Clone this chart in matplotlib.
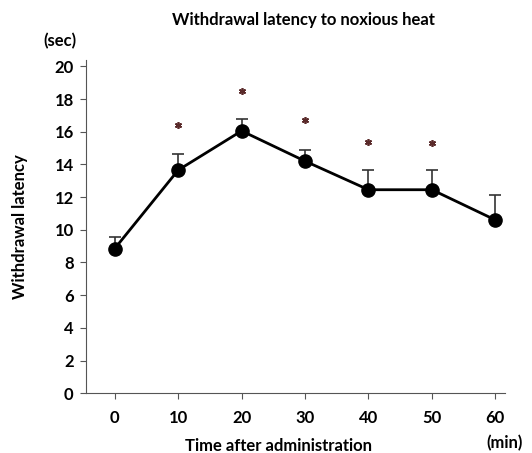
import matplotlib
matplotlib.use("Agg")
import matplotlib.pyplot as plt

plt.rcParams['font.family'] = ['Lato', 'DejaVu Sans']

time_min = [0, 10, 20, 30, 40, 50, 60]
latency = [8.85, 13.65, 16.05, 14.2, 12.45, 12.45, 10.6]
err_up = [0.72, 1.0, 0.75, 0.7, 1.23, 1.23, 1.55]
star_x = [10, 20, 30, 40, 50]
star_y = [16.4, 18.5, 16.7, 15.4, 15.3]

fig = plt.figure(figsize=(5.32, 4.53), dpi=100)
ax = fig.add_axes([0.162, 0.132, 0.787, 0.736])

ax.errorbar(time_min, latency, yerr=[[0] * len(err_up), err_up], fmt='none',
            ecolor='#333333', elinewidth=1.2, capsize=4, capthick=1.2)
ax.plot(time_min, latency, color='black', lw=2, marker='o', ms=9.5)
ax.plot(star_x, star_y, ls='none', marker=(6, 2, 0), ms=5, mew=1.2, color='#5a2a2a')

ax.set_xlim(-4.5, 61.5)
ax.set_ylim(0, 20.4)
ax.set_xticks(time_min)
ax.set_yticks(range(0, 21, 2))
ax.spines['top'].set_visible(False)
ax.spines['right'].set_visible(False)
ax.spines['left'].set_color('#555555')
ax.spines['bottom'].set_color('#555555')
ax.tick_params(direction='out', length=4, color='#555555', labelsize=12, pad=5)
ax.tick_params(axis='x', pad=8)
for lab in ax.get_xticklabels() + ax.get_yticklabels():
    lab.set_fontweight('bold')

fig.text(0.57, 0.955, 'Withdrawal latency to noxious heat', fontsize=12, fontweight='bold',
         ha='center', va='center')
fig.text(0.524, 0.016, 'Time after administration', fontsize=12, fontweight='bold',
         ha='center', va='center')
fig.text(0.037, 0.5, 'Withdrawal latency', fontsize=12, fontweight='bold',
         ha='center', va='center', rotation=90)
fig.text(0.081, 0.91, '(sec)', fontsize=12, fontweight='bold', ha='left', va='center')
fig.text(0.915, 0.022, '(min)', fontsize=12, fontweight='bold', ha='left', va='center')

fig.savefig('out.png', dpi=100)
